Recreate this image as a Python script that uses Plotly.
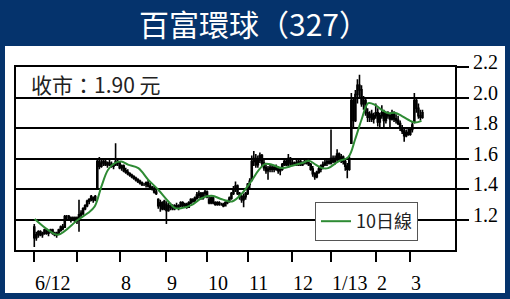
import plotly.graph_objects as go

# ---------------- data ----------------
opens = [1.15,1.08,1.10,1.12,1.10,1.11,1.13,1.11,1.12,1.13,
         1.11,1.10,1.11,1.13,1.15,1.15,1.22,1.22,1.21,1.20,
         1.21,1.19,1.21,1.23,1.24,1.27,1.29,1.32,1.33,1.34,
         1.33,1.41,1.58,1.55,1.57,1.58,1.56,1.57,1.56,1.55,
         1.56,1.58,1.57,1.54,1.55,1.52,1.51,1.50,1.49,1.48,
         1.47,1.46,1.45,1.44,1.43,1.43,1.44,1.42,1.41,1.40,
         1.38,1.33,1.29,1.31,1.27,1.30,1.26,1.29,1.28,1.27,
         1.29,1.28,1.29,1.31,1.29,1.30,1.28,1.31,1.33,1.32,
         1.34,1.36,1.37,1.34,1.37,1.38,1.33,1.31,1.34,1.31,
         1.30,1.31,1.30,1.30,1.29,1.31,1.32,1.34,1.37,1.40,
         1.42,1.37,1.35,1.33,1.35,1.37,1.43,1.46,1.58,1.60,
         1.56,1.59,1.62,1.57,1.54,1.52,1.53,1.54,1.53,1.54,
         1.53,1.52,1.53,1.56,1.58,1.56,1.60,1.57,1.56,1.57,
         1.56,1.58,1.56,1.57,1.58,1.57,1.56,1.53,1.50,1.48,
         1.51,1.53,1.55,1.56,1.57,1.58,1.57,1.60,1.58,1.60,
         1.63,1.60,1.61,1.58,1.55,1.53,1.70,1.98,1.85,2.02,
         2.08,2.05,1.96,1.98,1.90,1.87,1.89,1.86,1.88,1.90,
         1.84,1.88,1.90,1.85,1.89,1.88,1.86,1.90,1.86,1.85,
         1.83,1.80,1.78,1.75,1.77,1.76,1.79,1.84,1.98,1.93,
         1.88,1.87]
highs = [1.17,1.12,1.13,1.13,1.12,1.14,1.14,1.13,1.14,1.14,
         1.12,1.12,1.14,1.16,1.17,1.23,1.23,1.23,1.22,1.22,
         1.22,1.22,1.33,1.26,1.28,1.30,1.33,1.34,1.36,1.35,
         1.36,1.60,1.61,1.59,1.60,1.59,1.58,1.59,1.58,1.57,
         1.70,1.60,1.58,1.56,1.56,1.54,1.53,1.51,1.50,1.49,
         1.48,1.47,1.46,1.45,1.44,1.45,1.46,1.44,1.42,1.42,
         1.40,1.34,1.33,1.32,1.33,1.32,1.31,1.31,1.30,1.30,
         1.31,1.30,1.32,1.32,1.31,1.31,1.32,1.34,1.34,1.35,
         1.38,1.39,1.38,1.38,1.40,1.39,1.36,1.35,1.35,1.32,
         1.32,1.32,1.31,1.31,1.32,1.33,1.35,1.38,1.42,1.45,
         1.43,1.38,1.36,1.37,1.38,1.44,1.47,1.62,1.65,1.63,
         1.62,1.64,1.63,1.60,1.56,1.55,1.56,1.56,1.55,1.56,
         1.55,1.54,1.57,1.60,1.60,1.63,1.61,1.59,1.58,1.59,
         1.60,1.59,1.58,1.59,1.59,1.58,1.57,1.55,1.51,1.52,
         1.55,1.56,1.58,1.59,1.59,1.60,1.79,1.62,1.62,1.66,
         1.64,1.63,1.62,1.60,1.57,1.62,2.03,2.00,2.05,2.12,
         2.15,2.08,2.01,1.99,1.93,1.91,1.92,1.90,1.96,1.93,
         1.90,1.95,1.92,1.90,1.91,1.90,1.92,1.91,1.89,1.88,
         1.85,1.82,1.80,1.79,1.80,1.80,1.84,2.03,2.00,1.96,
         1.92,1.92]
lows = [1.02,1.06,1.08,1.09,1.08,1.10,1.10,1.09,1.11,1.10,
        1.09,1.08,1.10,1.12,1.13,1.15,1.20,1.19,1.18,1.19,
        1.18,1.17,1.12,1.21,1.23,1.26,1.28,1.30,1.32,1.31,
        1.32,1.40,1.53,1.54,1.55,1.55,1.54,1.55,1.54,1.53,
        1.55,1.55,1.53,1.52,1.51,1.50,1.49,1.48,1.47,1.46,
        1.45,1.44,1.43,1.42,1.42,1.41,1.41,1.40,1.39,1.37,
        1.36,1.27,1.25,1.26,1.26,1.17,1.25,1.26,1.26,1.26,
        1.27,1.26,1.28,1.28,1.28,1.27,1.28,1.30,1.31,1.31,
        1.33,1.34,1.33,1.33,1.35,1.34,1.30,1.30,1.30,1.29,
        1.29,1.29,1.29,1.28,1.29,1.30,1.31,1.33,1.36,1.38,
        1.36,1.33,1.31,1.28,1.33,1.36,1.40,1.45,1.55,1.54,
        1.54,1.57,1.55,1.52,1.50,1.46,1.51,1.51,1.51,1.52,
        1.50,1.49,1.52,1.55,1.55,1.55,1.55,1.55,1.55,1.55,
        1.55,1.55,1.55,1.56,1.56,1.55,1.52,1.48,1.46,1.47,
        1.50,1.51,1.53,1.55,1.55,1.56,1.56,1.57,1.56,1.58,
        1.58,1.57,1.56,1.52,1.47,1.52,1.70,1.80,1.84,1.96,
        2.00,1.94,1.92,1.88,1.84,1.84,1.84,1.83,1.86,1.81,
        1.80,1.86,1.80,1.83,1.86,1.80,1.85,1.84,1.83,1.82,
        1.78,1.76,1.71,1.74,1.75,1.75,1.77,1.83,1.90,1.86,
        1.85,1.86]
closes = [1.08,1.10,1.12,1.10,1.11,1.13,1.11,1.12,1.13,1.11,
          1.10,1.11,1.13,1.15,1.14,1.22,1.22,1.21,1.20,1.21,
          1.19,1.21,1.23,1.24,1.27,1.29,1.32,1.33,1.35,1.33,
          1.35,1.58,1.55,1.57,1.58,1.56,1.57,1.56,1.55,1.56,
          1.58,1.57,1.54,1.55,1.52,1.51,1.50,1.49,1.48,1.47,
          1.46,1.45,1.44,1.43,1.43,1.44,1.42,1.41,1.40,1.38,
          1.37,1.29,1.31,1.27,1.32,1.26,1.29,1.28,1.27,1.29,
          1.28,1.29,1.31,1.29,1.30,1.28,1.31,1.33,1.32,1.34,
          1.36,1.37,1.34,1.37,1.38,1.35,1.31,1.34,1.31,1.30,
          1.31,1.30,1.30,1.29,1.31,1.32,1.34,1.37,1.40,1.42,
          1.37,1.35,1.33,1.35,1.37,1.43,1.45,1.58,1.60,1.56,
          1.59,1.62,1.57,1.54,1.52,1.53,1.54,1.53,1.54,1.53,
          1.52,1.53,1.56,1.58,1.56,1.60,1.57,1.56,1.57,1.56,
          1.58,1.56,1.57,1.58,1.57,1.56,1.53,1.50,1.48,1.51,
          1.53,1.55,1.56,1.57,1.58,1.57,1.60,1.58,1.60,1.63,
          1.60,1.61,1.58,1.55,1.53,1.60,1.98,1.85,2.02,2.08,
          2.05,1.96,1.98,1.90,1.87,1.89,1.86,1.88,1.90,1.84,
          1.88,1.90,1.85,1.89,1.88,1.86,1.90,1.86,1.85,1.83,
          1.80,1.78,1.75,1.77,1.76,1.79,1.82,1.98,1.93,1.88,
          1.87,1.90]
days = list(range(len(closes)))

ma_days = [0.2, 6.7, 11.7, 21.5, 26.4, 29.7, 33.0, 36.3, 39.6, 42.8, 46.1,
           51.2, 56.1, 61.0, 66.0, 69.3, 72.6, 77.5, 82.4, 87.3, 92.3,
           97.3, 102.3, 107.2, 110.5, 113.7, 117.0, 121.9, 126.9, 131.8,
           135.1, 138.4, 141.7, 144.6, 149.5, 154.5, 157.8, 161.0, 164.3,
           167.6, 170.9, 174.2, 177.5, 180.7, 184.0, 187.3, 190.5]
ma10 = [1.203, 1.132, 1.100, 1.198, 1.242, 1.285, 1.416, 1.526, 1.570, 1.580, 1.560,
        1.537, 1.460, 1.395, 1.318, 1.275, 1.275, 1.296, 1.340, 1.355, 1.333,
        1.318, 1.373, 1.460, 1.526, 1.565, 1.559, 1.537, 1.552, 1.570,
        1.585, 1.560, 1.537, 1.537, 1.580, 1.609, 1.723, 1.854, 1.963,
        1.952, 1.919, 1.897, 1.900, 1.880, 1.854, 1.836, 1.847]

month_ticks = [0, 21, 42, 65, 85, 105, 127, 146, 168, 185]
month_labels = ["6/12", "", "8", "9", "10", "11", "12", "1/13", "2", "3"]
y_ticks = [1.2, 1.4, 1.6, 1.8, 2.0, 2.2]
y_labels = ["1.2", "1.4", "1.6", "1.8", "2.0", "2.2"]

title_text = "百富環球（327）"
close_text = "收市：1.90 元"
ma_name = "10日線"

# ---------------- figure ----------------
W, H = 510, 299
L, R, T, B = 16, 55, 67, 49
pw, ph = W - L - R, H - T - B

def px_x(x):
    return (x - L) / pw

def px_y(y):
    return (H - B - y) / ph

NAVY = "#05336C"
GREEN = "#2E8B34"
SERIF = "Liberation Serif, Times New Roman, serif"
CJK = "Noto Sans CJK TC, Noto Sans, sans-serif"

fig = go.Figure()
fig.add_trace(go.Candlestick(
    x=days, open=opens, high=highs, low=lows, close=closes,
    increasing=dict(line=dict(color="black", width=1.6), fillcolor="black"),
    decreasing=dict(line=dict(color="black", width=1.6), fillcolor="black"),
    whiskerwidth=0, showlegend=False, hoverinfo="skip",
))
fig.add_trace(go.Scatter(
    x=ma_days, y=ma10, mode="lines", name=ma_name,
    line=dict(color=GREEN, width=2, shape="spline", smoothing=1.0),
    hoverinfo="skip",
))

annotations = [
    dict(text=title_text, x=px_x(254), y=px_y(23), xref="paper", yref="paper",
         showarrow=False, xanchor="center", yanchor="middle",
         font=dict(family=CJK, size=30, color="white")),
    dict(text=close_text, x=px_x(29), y=px_y(84), xref="paper", yref="paper",
         showarrow=False, xanchor="left", yanchor="middle",
         font=dict(family=CJK, size=21, color="#222222")),
]
for tv, tl in zip(month_ticks, month_labels):
    if tl:
        annotations.append(dict(text=tl, x=tv, y=px_y(283), xref="x", yref="paper",
                                showarrow=False, xanchor="left", yanchor="middle",
                                xshift=-1,
                                font=dict(family=SERIF, size=20, color="black")))

fig.update_layout(
    width=W, height=H,
    margin=dict(l=L, r=R, t=T, b=B),
    paper_bgcolor=NAVY, plot_bgcolor="white",
    shapes=[dict(type="rect", xref="paper", yref="paper",
                 x0=px_x(5), x1=px_x(505), y0=px_y(293), y1=px_y(46),
                 fillcolor="white", line=dict(width=0), layer="below")],
    annotations=annotations,
    showlegend=True,
    legend=dict(x=px_x(315), y=px_y(202), xanchor="left", yanchor="top",
                bgcolor="white", bordercolor="#555555", borderwidth=1,
                font=dict(family=CJK, size=18, color="#222222"),
                itemwidth=30, tracegroupgap=0),
    xaxis=dict(range=[-9, 207], rangeslider=dict(visible=False),
               tickvals=month_ticks, ticktext=month_labels, showticklabels=False,
               ticks="outside", ticklen=10, tickwidth=2, tickcolor="black",
               showgrid=False, zeroline=False,
               showline=True, linecolor="black", linewidth=2, mirror=True),
    yaxis=dict(range=[1.0, 2.2], side="right",
               tickvals=y_ticks, ticktext=y_labels,
               ticks="outside", ticklen=12, tickwidth=2, tickcolor="black",
               tickfont=dict(family=SERIF, size=20, color="black"),
               ticklabelshift=-5,
               showgrid=True, gridcolor="black", gridwidth=1.5, zeroline=False,
               showline=True, linecolor="black", linewidth=2, mirror=True),
)

fig.write_html("out.html")
